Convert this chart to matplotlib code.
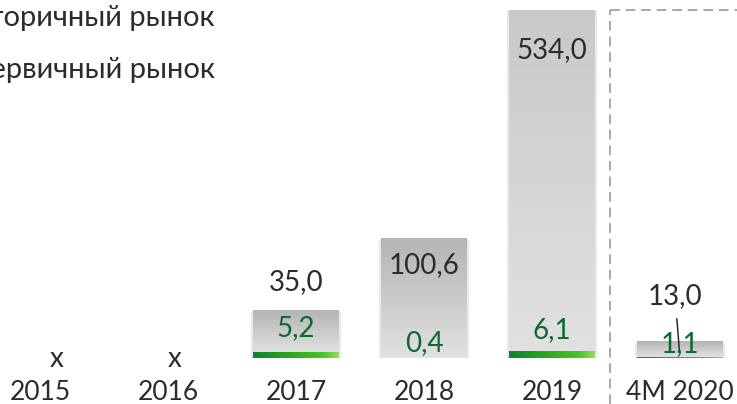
import numpy as np
import matplotlib
matplotlib.use("Agg")
import matplotlib.pyplot as plt
from matplotlib.colors import LinearSegmentedColormap
from matplotlib.lines import Line2D

plt.rcParams['font.family'] = ['Lato', 'DejaVu Sans']

# Data (bn RUB)
periods = ["2015", "2016", "2017", "2018", "2019", "4M 2020"]
secondary = [np.nan, np.nan, 35.0, 100.6, 534.0, 13.0]   # Вторичный рынок
primary = [np.nan, np.nan, 5.2, 0.4, 6.1, 1.1]           # Первичный рынок

# label placement (pixels) - styling only
sec_dy = [None, None, 28, -27, -40, 45]
pri_dy = [None, None, 30, 15, 28, 14]
na_dx = [17, 7, 0, 0, 0, 0]

DARK = '#2b2b2b'
GREEN_TXT = '#0b6a30'
PX = 0.72  # px -> pt at dpi 100
FS = 20

gray_cmap = LinearSegmentedColormap.from_list('g', ['#e1e1e1', '#b4b4b4'])
green_cmap = LinearSegmentedColormap.from_list(
    'gr', [(0, '#0b852b'), (0.55, '#35b21f'), (0.8, '#4cc21f'), (1, '#95d965')])

fig = plt.figure(figsize=(7.37, 4.04), dpi=100)
ax = fig.add_axes([0, 1 - 358 / 404, 1, 348 / 404])
ymax = 292
w = 86 / 128

vgrad = np.linspace(0, 1, 256).reshape(-1, 1)
hgrad = np.linspace(0, 1, 256).reshape(1, -1)


def fmt(v):
    return f"{v:.1f}".replace('.', ',')


def clip_to(artist, patch):
    # use the path form so the axes clip box is kept
    artist.set_clip_path(patch.get_path(), patch.get_transform())


for i, (s, p) in enumerate(zip(secondary, primary)):
    if np.isnan(s):
        ax.annotate('x', xy=(i, 0), xytext=(na_dx[i] * PX, -1 * PX), textcoords='offset points',
                    ha='center', va='center', fontsize=FS, color=DARK)
        continue
    # soft shadow
    for k in range(4):
        ax.bar(i, s + p, width=w + (k + 1) * 0.012, bottom=-(k + 1) * 0.5,
               color='black', alpha=0.025, zorder=1, linewidth=0)
    # secondary (gray gradient)
    rect = ax.bar(i, s, bottom=p, width=w, color='#cccccc', zorder=2, linewidth=0)[0]
    im = ax.imshow(vgrad, extent=(i - w / 2, i + w / 2, p, p + s), origin='lower',
                   aspect='auto', cmap=gray_cmap, zorder=2.1)
    clip_to(im, rect)
    # primary (green gradient)
    rg = ax.bar(i, p, width=w, color='#35b21f', zorder=3, linewidth=0)[0]
    img = ax.imshow(hgrad, extent=(i - w / 2, i + w / 2, 0, p), origin='lower',
                    aspect='auto', cmap=green_cmap, zorder=3.1)
    clip_to(img, rg)

    top = min(s + p, ymax)
    if i == 5:
        ax.annotate(fmt(s), xy=(i, 0), xytext=(-5 * PX, 62 * PX), textcoords='offset points',
                    ha='center', va='center', fontsize=FS, color=DARK, zorder=5,
                    arrowprops=dict(arrowstyle='-', color=DARK, lw=1.1,
                                    shrinkA=5, shrinkB=4.3))
    else:
        ax.annotate(fmt(s), xy=(i, top), xytext=(0, sec_dy[i] * PX), textcoords='offset points',
                    ha='center', va='center', fontsize=FS, color=DARK, zorder=5)
    ax.annotate(fmt(p), xy=(i, 0), xytext=(0, pri_dy[i] * PX), textcoords='offset points',
                ha='center', va='center', fontsize=FS, color=GREEN_TXT, zorder=5)

ax.set_autoscale_on(False)
ax.set_xlim(-40 / 128, (737 - 40) / 128)
ax.set_ylim(0, ymax)
ax.set_xticks(range(len(periods)))
ax.set_xticklabels(periods, fontsize=19, color=DARK)
ax.tick_params(axis='x', length=0, pad=16)
ax.set_yticks([])
for sp in ax.spines.values():
    sp.set_visible(False)
ax.patch.set_visible(False)

# dashed frame around the 4M 2020 period
xd = 610 / 737
yd = 1 - 10 / 404
fig.add_artist(Line2D([xd, xd], [0, yd], transform=fig.transFigure,
                      color='#a8a8a8', lw=1.4, ls=(0, (5, 3))))
fig.add_artist(Line2D([xd, 1], [yd, yd], transform=fig.transFigure,
                      color='#a8a8a8', lw=1.4, ls=(0, (5, 3))))

# legend (partly cut off on the left, as in the source)
fig.text(215 / 737, 1 - 18 / 404, 'Вторичный рынок', ha='right', va='center',
         fontsize=21, color=DARK)
fig.text(215 / 737, 1 - 70 / 404, 'Первичный рынок', ha='right', va='center',
         fontsize=21, color=DARK)

fig.savefig('out.png', dpi=100)
